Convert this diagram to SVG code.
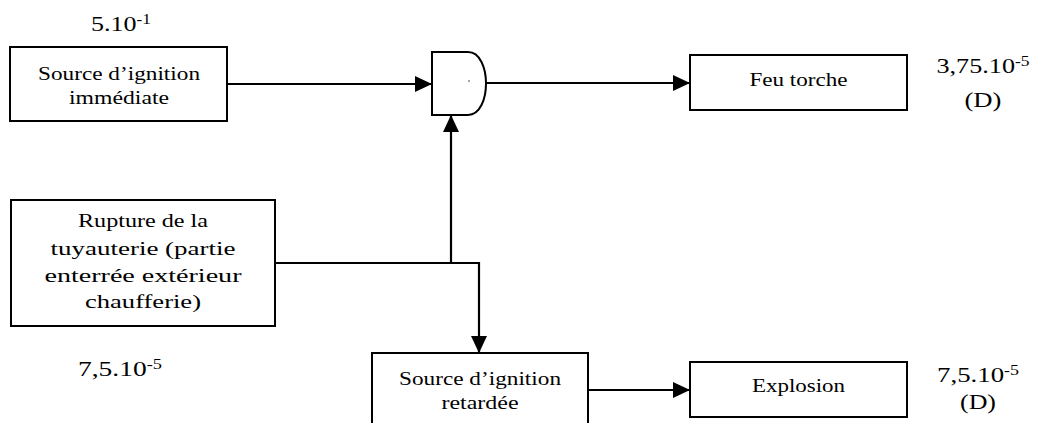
<svg xmlns="http://www.w3.org/2000/svg" width="1037" height="423" viewBox="0 0 1037 423">
  <style>
    .box { fill: #ffffff; stroke: #000000; stroke-width: 2; }
    .lbl { font-family: "Liberation Serif", "Times New Roman", serif; font-size: 19px; fill: #000000; text-anchor: middle; }
    .num { font-family: "Liberation Serif", "Times New Roman", serif; font-size: 21px; fill: #000000; text-anchor: middle; }
    .sup { font-size: 14px; }
    .wire { fill: none; stroke: #000000; stroke-width: 2.2; }
  </style>
  <defs>
    <marker id="arrow" markerUnits="userSpaceOnUse" markerWidth="18" markerHeight="16" refX="17" refY="8" orient="auto">
      <path d="M0,0 L17,8 L0,16 Z" fill="#000000"/>
    </marker>
  </defs>
  <rect width="1037" height="423" fill="#ffffff"/>

  <g id="connectors">
    <path class="wire" d="M227,84 H432" marker-end="url(#arrow)"/>
    <path class="wire" d="M486,83 H690" marker-end="url(#arrow)"/>
    <path class="wire" d="M451,263 V115" marker-end="url(#arrow)"/>
    <path class="wire" d="M275,263 H479 V353" marker-end="url(#arrow)"/>
    <path class="wire" d="M588,390 H690" marker-end="url(#arrow)"/>
  </g>

  <g id="node-immediate">
    <rect class="box" x="10" y="47" width="217" height="74"/>
    <text class="lbl" x="119" y="80" textLength="162" lengthAdjust="spacingAndGlyphs">Source d’ignition</text>
    <text class="lbl" x="119" y="104" textLength="100" lengthAdjust="spacingAndGlyphs">immédiate</text>
    <text class="num" x="121" y="31" textLength="60" lengthAdjust="spacingAndGlyphs">5.10<tspan class="sup" dy="-7">-1</tspan></text>
  </g>

  <g id="node-and-gate">
    <path class="box" d="M432,52 H468 C480,52 486,68 486,83.5 C486,99 480,115 468,115 H432 Z"/>
    <circle cx="469" cy="81" r="0.8" fill="#333333"/>
  </g>

  <g id="node-feu-torche">
    <rect class="box" x="690" y="55" width="217" height="55"/>
    <text class="lbl" x="798.5" y="86" textLength="98" lengthAdjust="spacingAndGlyphs">Feu torche</text>
    <text class="num" x="983" y="73" textLength="93" lengthAdjust="spacingAndGlyphs">3,75.10<tspan class="sup" dy="-7">-5</tspan></text>
    <text class="num" x="983" y="107" textLength="37" lengthAdjust="spacingAndGlyphs">(D)</text>
  </g>

  <g id="node-rupture">
    <rect class="box" x="11" y="200" width="264" height="126"/>
    <text class="lbl" x="143" y="227" textLength="130" lengthAdjust="spacingAndGlyphs">Rupture de la</text>
    <text class="lbl" x="143" y="255" textLength="185" lengthAdjust="spacingAndGlyphs">tuyauterie (partie</text>
    <text class="lbl" x="143" y="282" textLength="197" lengthAdjust="spacingAndGlyphs">enterrée extérieur</text>
    <text class="lbl" x="143" y="308" textLength="116" lengthAdjust="spacingAndGlyphs">chaufferie)</text>
    <text class="num" x="120" y="376" textLength="84" lengthAdjust="spacingAndGlyphs">7,5.10<tspan class="sup" dy="-7">-5</tspan></text>
  </g>

  <g id="node-retardee">
    <rect class="box" x="372" y="353" width="216" height="85"/>
    <text class="lbl" x="480" y="385" textLength="162" lengthAdjust="spacingAndGlyphs">Source d’ignition</text>
    <text class="lbl" x="480" y="409" textLength="77" lengthAdjust="spacingAndGlyphs">retardée</text>
  </g>

  <g id="node-explosion">
    <rect class="box" x="690" y="362" width="217" height="55"/>
    <text class="lbl" x="798.5" y="392" textLength="93" lengthAdjust="spacingAndGlyphs">Explosion</text>
    <text class="num" x="978" y="382" textLength="82" lengthAdjust="spacingAndGlyphs">7,5.10<tspan class="sup" dy="-7">-5</tspan></text>
    <text class="num" x="978" y="409" textLength="36" lengthAdjust="spacingAndGlyphs">(D)</text>
  </g>
</svg>
